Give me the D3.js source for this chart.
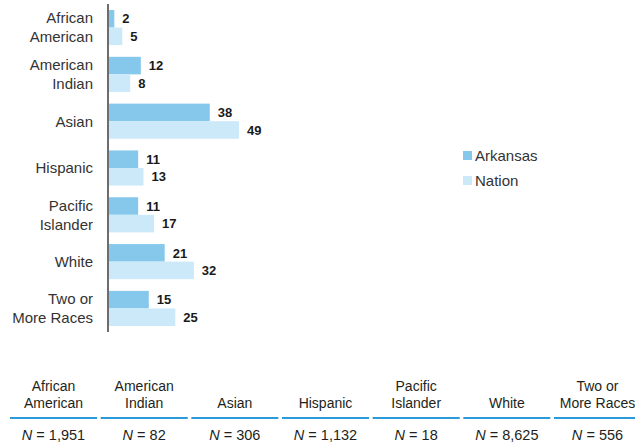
<!DOCTYPE html>
<html>
<head>
<meta charset="utf-8">
<script src="https://cdn.jsdelivr.net/npm/d3@7"></script>
<style>
  body { margin: 0; background: #fff; }
  text { font-family: "Liberation Sans", Arial, Helvetica, sans-serif; }
</style>
</head>
<body>
<script>
// chart data
var categories = ["African American", "American Indian", "Asian", "Hispanic", "Pacific Islander", "White", "Two or More Races"];
var catLines = [["African", "American"], ["American", "Indian"], ["Asian"], ["Hispanic"], ["Pacific", "Islander"], ["White"], ["Two or", "More Races"]];
var arkansas = [2, 12, 38, 11, 11, 21, 15];
var nation = [5, 8, 49, 13, 17, 32, 25];
var nCounts = ["1,951", "82", "306", "1,132", "18", "8,625", "556"];
var seriesNames = ["Arkansas", "Nation"];
var colors = ["#85c8ec", "#cce9f9"];

var width = 635, height = 447;

var svg = d3.select("body").append("svg")
  .attr("width", width)
  .attr("height", height);

// scales
var x = d3.scaleLinear().domain([0, 50]).range([109, 241.6]);
var y = d3.scaleBand().domain(categories).range([10, 326]).paddingInner(0.25).paddingOuter(0);
var ySub = d3.scaleBand().domain(seriesNames).range([0, y.bandwidth()]);

var groups = svg.selectAll("g.grp")
  .data(categories)
  .enter().append("g")
  .attr("class", "grp")
  .attr("transform", function(d) { return "translate(0," + y(d) + ")"; });

groups.each(function(cat, i) {
  var g = d3.select(this);
  var vals = [arkansas[i], nation[i]];
  vals.forEach(function(v, j) {
    g.append("rect")
      .attr("x", x(0))
      .attr("y", ySub(seriesNames[j]))
      .attr("width", x(v) - x(0))
      .attr("height", ySub.bandwidth())
      .attr("fill", colors[j]);
    g.append("text")
      .attr("x", x(v) + 8)
      .attr("y", ySub(seriesNames[j]) + ySub.bandwidth() / 2)
      .attr("dy", "0.36em")
      .attr("font-size", "13px")
      .attr("font-weight", "bold")
      .attr("fill", "#1a1a1a")
      .text(v);
  });

  // category label
  var lines = catLines[i];
  var mid = y.bandwidth() / 2;
  var lbl = g.append("text")
    .attr("text-anchor", "end")
    .attr("font-size", "15px")
    .attr("fill", "#333");
  lines.forEach(function(l, k) {
    lbl.append("tspan")
      .attr("x", 93)
      .attr("y", mid + (k - (lines.length - 1) / 2) * 19)
      .attr("dy", "0.36em")
      .text(l);
  });
});

// axis line
svg.append("line")
  .attr("x1", 108).attr("x2", 108)
  .attr("y1", 4).attr("y2", 332)
  .attr("stroke", "#6d6d6d")
  .attr("stroke-width", 2);

// legend
var legend = svg.selectAll("g.leg")
  .data(seriesNames)
  .enter().append("g")
  .attr("class", "leg")
  .attr("transform", function(d, i) { return "translate(463," + (151 + i * 25) + ")"; });
legend.append("rect")
  .attr("width", 9).attr("height", 9)
  .attr("fill", function(d, i) { return colors[i]; });
legend.append("text")
  .attr("x", 12).attr("y", 5)
  .attr("dy", "0.36em")
  .attr("font-size", "15px")
  .attr("fill", "#333")
  .text(function(d) { return d; });

// table of N counts
var col = d3.scaleBand().domain(categories).range([10, 641]).paddingInner(0.04);

var cols = svg.selectAll("g.col")
  .data(categories)
  .enter().append("g")
  .attr("class", "col")
  .attr("transform", function(d) { return "translate(" + col(d) + ",0)"; });

cols.each(function(cat, i) {
  var g = d3.select(this);
  var cx = col.bandwidth() / 2;
  var lines = catLines[i];
  var head = g.append("text")
    .attr("text-anchor", "middle")
    .attr("font-size", "14px")
    .attr("fill", "#231f20");
  lines.forEach(function(l, k) {
    head.append("tspan")
      .attr("x", cx)
      .attr("y", 408 - (lines.length - 1 - k) * 17)
      .text(l);
  });
  g.append("line")
    .attr("x1", 0).attr("x2", col.bandwidth())
    .attr("y1", 418).attr("y2", 418)
    .attr("stroke", "#2a9bd8")
    .attr("stroke-width", 2);
  var nt = g.append("text")
    .attr("x", cx).attr("y", 440)
    .attr("text-anchor", "middle")
    .attr("font-size", "14.5px")
    .attr("fill", "#231f20");
  nt.append("tspan").attr("font-style", "italic").text("N");
  nt.append("tspan").text(" = " + nCounts[i]);
});
</script>
</body>
</html>
